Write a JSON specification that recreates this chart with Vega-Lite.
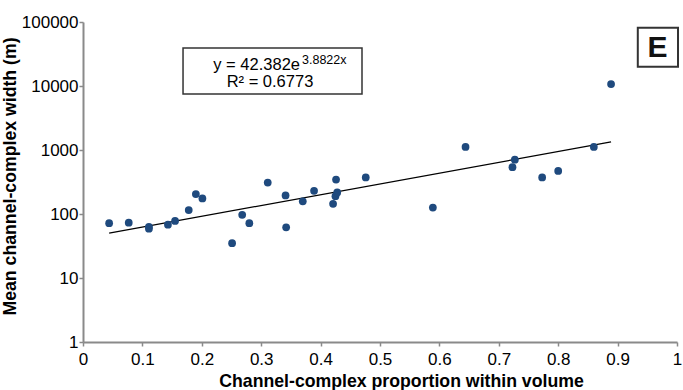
{
  "$schema": "https://vega.github.io/schema/vega-lite/v6.json",
  "width": 594,
  "height": 320,
  "autosize": {"type": "none"},
  "padding": {"left": 83, "top": 22, "right": 6, "bottom": 48},
  "background": "white",
  "config": {
    "view": {"stroke": null},
    "font": "Liberation Sans",
    "axis": {
      "grid": false,
      "domainColor": "#8a8a8a",
      "domainWidth": 2,
      "tickColor": "#8a8a8a",
      "tickWidth": 1.5,
      "tickSize": 4,
      "labelFont": "Liberation Sans",
      "labelFontSize": 17,
      "labelColor": "#000000",
      "titleFont": "Liberation Sans",
      "titleFontSize": 17.7,
      "titleFontWeight": "bold",
      "titleColor": "#000000"
    }
  },
  "datasets": {
    "points": [
      {"x": 0.044, "y": 72}, {"x": 0.077, "y": 73}, {"x": 0.111, "y": 63}, {"x": 0.111, "y": 59},
      {"x": 0.143, "y": 68}, {"x": 0.155, "y": 78}, {"x": 0.178, "y": 115}, {"x": 0.190, "y": 205},
      {"x": 0.201, "y": 175}, {"x": 0.251, "y": 35}, {"x": 0.268, "y": 97}, {"x": 0.280, "y": 72},
      {"x": 0.311, "y": 310}, {"x": 0.341, "y": 195}, {"x": 0.342, "y": 62}, {"x": 0.370, "y": 158},
      {"x": 0.389, "y": 230}, {"x": 0.421, "y": 144}, {"x": 0.426, "y": 345}, {"x": 0.425, "y": 190},
      {"x": 0.428, "y": 217}, {"x": 0.476, "y": 372}, {"x": 0.589, "y": 126}, {"x": 0.644, "y": 1115},
      {"x": 0.723, "y": 540}, {"x": 0.727, "y": 706}, {"x": 0.773, "y": 372}, {"x": 0.800, "y": 470},
      {"x": 0.860, "y": 1115}, {"x": 0.889, "y": 10700}
    ],
    "trend": [
      {"x": 0.044, "y": 50.3},
      {"x": 0.889, "y": 1336}
    ],
    "one": [{}]
  },
  "layer": [
    {
      "data": {"name": "one"},
      "mark": {"type": "rect", "fill": "white", "stroke": "#333333", "strokeWidth": 1.5},
      "encoding": {
        "x": {"datum": 0.1684, "type": "quantitative"},
        "x2": {"datum": 0.4697},
        "y": {"datum": 39250, "type": "quantitative"},
        "y2": {"datum": 7500}
      }
    },
    {
      "data": {"name": "one"},
      "mark": {"type": "rect", "fill": "white", "stroke": "#333333", "strokeWidth": 2},
      "encoding": {
        "x": {"datum": 0.934, "type": "quantitative"},
        "x2": {"datum": 1.0017},
        "y": {"datum": 81500, "type": "quantitative"},
        "y2": {"datum": 20050}
      }
    },
    {
      "data": {"name": "trend"},
      "mark": {"type": "line", "color": "#000000", "strokeWidth": 1.2},
      "encoding": {
        "x": {"field": "x", "type": "quantitative"},
        "y": {"field": "y", "type": "quantitative"}
      }
    },
    {
      "data": {"name": "points"},
      "mark": {"type": "circle", "color": "#1f4a7e", "opacity": 1, "size": 60},
      "encoding": {
        "x": {
          "field": "x",
          "type": "quantitative",
          "scale": {"domain": [0, 1], "nice": false, "zero": false},
          "axis": {
            "title": "Channel-complex proportion within volume",
            "values": [0, 0.1, 0.2, 0.3, 0.4, 0.5, 0.6, 0.7, 0.8, 0.9, 1],
            "format": ".1~f",
            "labelPadding": 5,
            "labelFlush": false,
            "titleX": 318,
            "titleY": 44,
            "titleBaseline": "alphabetic",
            "titleAnchor": "middle"
          }
        },
        "y": {
          "field": "y",
          "type": "quantitative",
          "scale": {"type": "log", "domain": [1, 100000], "nice": false},
          "axis": {
            "title": "Mean channel-complex width (m)",
            "values": [1, 10, 100, 1000, 10000, 100000],
            "format": "d",
            "labelPadding": 1,
            "labelFlush": false,
            "titleAngle": 270,
            "titleX": -82,
            "titleY": 154,
            "titleAlign": "center",
            "titleBaseline": "top"
          }
        }
      }
    },
    {
      "data": {"name": "one"},
      "mark": {"type": "text", "align": "right", "baseline": "alphabetic", "fontSize": 16.5, "color": "#000000"},
      "encoding": {
        "x": {"datum": 0.3653, "type": "quantitative"},
        "y": {"datum": 17800, "type": "quantitative"},
        "text": {"value": "y = 42.382e"}
      }
    },
    {
      "data": {"name": "one"},
      "mark": {"type": "text", "align": "left", "baseline": "alphabetic", "fontSize": 12.5, "color": "#000000"},
      "encoding": {
        "x": {"datum": 0.3687, "type": "quantitative"},
        "y": {"datum": 22200, "type": "quantitative"},
        "text": {"value": "3.8822x"}
      }
    },
    {
      "data": {"name": "one"},
      "mark": {"type": "text", "align": "center", "baseline": "alphabetic", "fontSize": 16.5, "color": "#000000"},
      "encoding": {
        "x": {"datum": 0.3148, "type": "quantitative"},
        "y": {"datum": 9500, "type": "quantitative"},
        "text": {"value": "R² = 0.6773"}
      }
    },
    {
      "data": {"name": "one"},
      "mark": {"type": "text", "align": "center", "baseline": "alphabetic", "fontSize": 30, "fontWeight": "bold", "color": "#111111"},
      "encoding": {
        "x": {"datum": 0.967, "type": "quantitative"},
        "y": {"datum": 28700, "type": "quantitative"},
        "text": {"value": "E"}
      }
    }
  ]
}
